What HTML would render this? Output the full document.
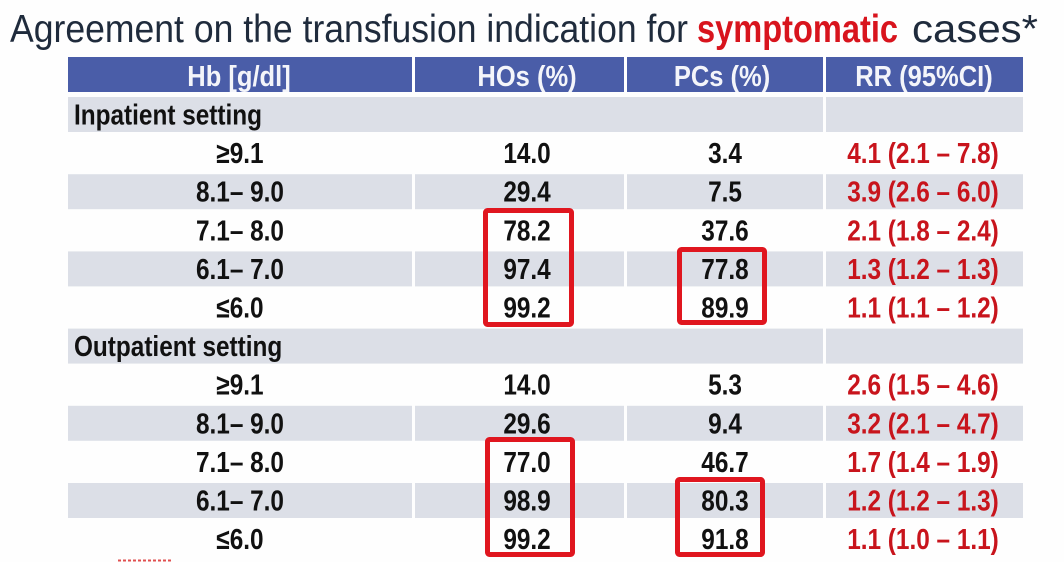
<!DOCTYPE html>
<html>
<head>
<meta charset="utf-8">
<style>
  html, body { margin:0; padding:0; background:#fefefe; }
  svg { display:block; }
  text { font-family: "Liberation Sans", Arial, sans-serif; }
</style>
</head>
<body>
<svg width="1064" height="562" viewBox="0 0 1064 562" xmlns="http://www.w3.org/2000/svg">
  <rect x="0" y="0" width="1064" height="562" fill="#fefefe"/>

  <!-- Title -->
  <text x="10" y="42" font-size="39" fill="#1f2b3c" textLength="678" lengthAdjust="spacingAndGlyphs">Agreement on the transfusion indication for</text>
  <text x="697" y="42" font-size="39" font-weight="bold" fill="#d8141d" textLength="201" lengthAdjust="spacingAndGlyphs">symptomatic</text>
  <text x="912" y="42" font-size="39" fill="#1f2b3c" textLength="126" lengthAdjust="spacingAndGlyphs">cases*</text>

  <!-- Header bar -->
  <rect x="68" y="57" width="955" height="35" fill="#4a5da8"/>
  <rect x="412" y="57" width="3" height="35" fill="#ffffff"/>
  <rect x="624" y="57" width="3" height="35" fill="#ffffff"/>
  <rect x="823" y="57" width="3" height="35" fill="#ffffff"/>

  <!-- Gray bands -->
  <g fill="#dcdfe7">
    <rect x="68" y="97" width="755" height="35"/>
    <rect x="826" y="97" width="197" height="35"/>
    <rect x="68" y="174.2" width="344" height="35"/>
    <rect x="415" y="174.2" width="209" height="35"/>
    <rect x="627" y="174.2" width="196" height="35"/>
    <rect x="826" y="174.2" width="197" height="35"/>
    <rect x="68" y="251.4" width="344" height="35"/>
    <rect x="415" y="251.4" width="209" height="35"/>
    <rect x="627" y="251.4" width="196" height="35"/>
    <rect x="826" y="251.4" width="197" height="35"/>
    <rect x="68" y="328.6" width="755" height="35"/>
    <rect x="826" y="328.6" width="197" height="35"/>
    <rect x="68" y="405.8" width="344" height="35"/>
    <rect x="415" y="405.8" width="209" height="35"/>
    <rect x="627" y="405.8" width="196" height="35"/>
    <rect x="826" y="405.8" width="197" height="35"/>
    <rect x="68" y="483" width="344" height="35"/>
    <rect x="415" y="483" width="209" height="35"/>
    <rect x="627" y="483" width="196" height="35"/>
    <rect x="826" y="483" width="197" height="35"/>
  </g>

  <!-- Header text -->
  <g transform="scale(0.88 1)" font-weight="bold" font-size="29" fill="#f4f5fa" text-anchor="middle">
    <text x="271.6" y="86">Hb [g/dl]</text>
    <text x="598.9" y="86">HOs (%)</text>
    <text x="820.5" y="86">PCs (%)</text>
    <text x="1050" y="86">RR (95%CI)</text>
  </g>

  <g transform="scale(0.84 1)" font-weight="bold" font-size="29">
    <!-- Section labels -->
    <g fill="#111111">
      <text x="88.1" y="124.5">Inpatient setting</text>
      <text x="88.1" y="356.1">Outpatient setting</text>
    </g>

    <!-- Hb column -->
    <g fill="#111111" text-anchor="middle">
      <text x="285.7" y="163.1">≥9.1</text>
      <text x="285.7" y="201.7">8.1– 9.0</text>
      <text x="285.7" y="240.3">7.1– 8.0</text>
      <text x="285.7" y="278.9">6.1– 7.0</text>
      <text x="285.7" y="317.5">≤6.0</text>
      <text x="285.7" y="394.7">≥9.1</text>
      <text x="285.7" y="433.3">8.1– 9.0</text>
      <text x="285.7" y="471.9">7.1– 8.0</text>
      <text x="285.7" y="510.5">6.1– 7.0</text>
      <text x="285.7" y="549.1">≤6.0</text>
    </g>

    <!-- HOs column -->
    <g fill="#111111" text-anchor="middle">
      <text x="627.4" y="163.1">14.0</text>
      <text x="627.4" y="201.7">29.4</text>
      <text x="627.4" y="240.3">78.2</text>
      <text x="627.4" y="278.9">97.4</text>
      <text x="627.4" y="317.5">99.2</text>
      <text x="627.4" y="394.7">14.0</text>
      <text x="627.4" y="433.3">29.6</text>
      <text x="627.4" y="471.9">77.0</text>
      <text x="627.4" y="510.5">98.9</text>
      <text x="627.4" y="549.1">99.2</text>
    </g>

    <!-- PCs column -->
    <g fill="#111111" text-anchor="middle">
      <text x="863.1" y="163.1">3.4</text>
      <text x="863.1" y="201.7">7.5</text>
      <text x="863.1" y="240.3">37.6</text>
      <text x="863.1" y="278.9">77.8</text>
      <text x="863.1" y="317.5">89.9</text>
      <text x="863.1" y="394.7">5.3</text>
      <text x="863.1" y="433.3">9.4</text>
      <text x="863.1" y="471.9">46.7</text>
      <text x="863.1" y="510.5">80.3</text>
      <text x="863.1" y="549.1">91.8</text>
    </g>

    <!-- RR column -->
    <g fill="#c8141c" text-anchor="middle">
      <text x="1098.8" y="163.1">4.1 (2.1 – 7.8)</text>
      <text x="1098.8" y="201.7">3.9 (2.6 – 6.0)</text>
      <text x="1098.8" y="240.3">2.1 (1.8 – 2.4)</text>
      <text x="1098.8" y="278.9">1.3 (1.2 – 1.3)</text>
      <text x="1098.8" y="317.5">1.1 (1.1 – 1.2)</text>
      <text x="1098.8" y="394.7">2.6 (1.5 – 4.6)</text>
      <text x="1098.8" y="433.3">3.2 (2.1 – 4.7)</text>
      <text x="1098.8" y="471.9">1.7 (1.4 – 1.9)</text>
      <text x="1098.8" y="510.5">1.2 (1.2 – 1.3)</text>
      <text x="1098.8" y="549.1">1.1 (1.0 – 1.1)</text>
    </g>
  </g>

  <!-- Red highlight boxes -->
  <g fill="none" stroke="#e0161f" stroke-width="5">
    <rect x="485.5" y="210.5" width="86" height="114" rx="2"/>
    <rect x="679.5" y="249.5" width="85" height="73" rx="2"/>
    <rect x="487.5" y="439.5" width="85" height="115" rx="2"/>
    <rect x="677.5" y="479.5" width="85" height="75" rx="2"/>
  </g>

  <!-- small red mark bottom-left -->
  <line x1="118" y1="560.5" x2="172" y2="560.5" stroke="#e05050" stroke-width="2" stroke-dasharray="3 2"/>
</svg>
</body>
</html>
